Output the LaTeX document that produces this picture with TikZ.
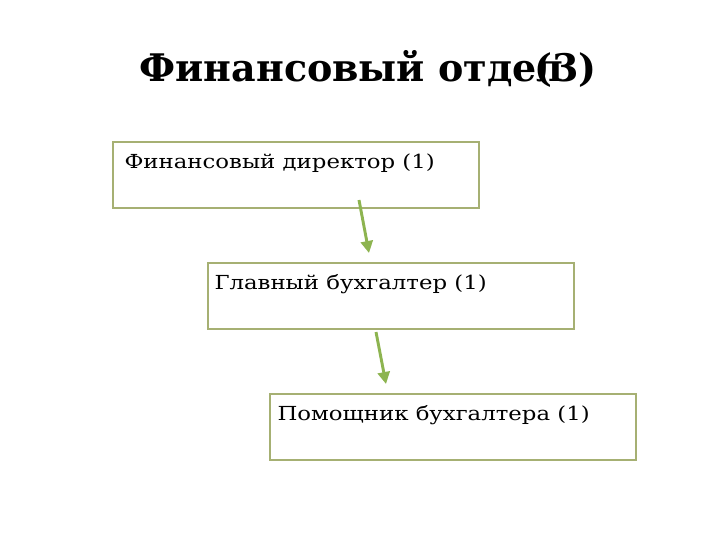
\documentclass[tikz,border=0pt]{standalone}
\usepackage{fontspec}
\setmainfont{DejaVu Serif}
\newfontfamily\headfont{DejaVu Serif}
\usetikzlibrary{arrows.meta}
\definecolor{boxline}{RGB}{166,176,115}
\definecolor{arrowgreen}{RGB}{141,180,80}
\newcommand{\widetext}[1]{\scalebox{1.18}[1]{#1}}
\tikzset{every picture/.style={line width=0.75pt},
  unitbox/.style={draw=boxline, line width=1.5pt, minimum width=366*0.75pt, minimum height=66*0.75pt, inner sep=0pt},
  boxtext/.style={anchor=base west, inner sep=0.75pt, font=\fontsize{14.5}{18}\selectfont},
  headtext/.style={anchor=base west, inner sep=0.75pt, font=\headfont\bfseries\fontsize{28.5}{32}\selectfont},
  flow/.style={draw=arrowgreen, line width=2.2pt, -{Triangle[length=9pt,width=9pt]}}}

\begin{document}
\begin{tikzpicture}[x=0.75pt,y=0.75pt,yscale=-1,xscale=1]
\useasboundingbox (0,0) rectangle (720,540);

% Title
\node (title) [headtext] at (138,81) {Финансовый отдел};
\node (count) [headtext] at (533,81) {(3)};

%Shape: Rectangle [id:director]
\node (dir) [unitbox] at (296,175) {};
%Shape: Rectangle [id:chief]
\node (chief) [unitbox] at (391,296) {};
%Shape: Rectangle [id:assistant]
\node (asst) [unitbox] at (452.5,427) {};

% Text Node
\node (dirtext) [boxtext] at (123,168) {\widetext{Финансовый директор (1)}};
% Text Node
\node (chieftext) [boxtext] at (213,289) {\widetext{Главный бухгалтер (1)}};
% Text Node
\node (assttext) [boxtext] at (276,420) {\widetext{Помощник бухгалтера (1)}};

%Straight Lines [id:arrow1]
\coordinate (a1s) at (359,200);
\coordinate (a1e) at (369,253);
\draw [flow] (a1s) -- (a1e);
%Straight Lines [id:arrow2]
\coordinate (a2s) at (376,332);
\coordinate (a2e) at (386,384);
\draw [flow] (a2s) -- (a2e);

\end{tikzpicture}
\end{document}
